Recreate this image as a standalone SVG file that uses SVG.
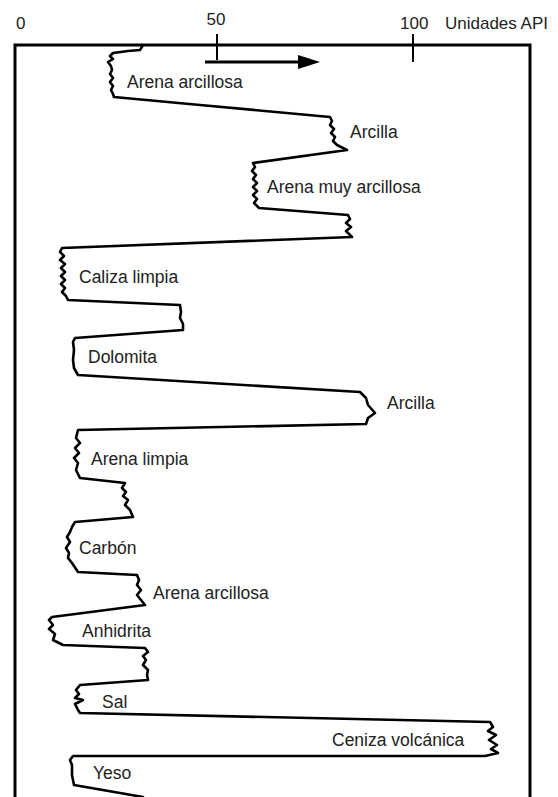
<svg xmlns="http://www.w3.org/2000/svg" width="558" height="797" viewBox="0 0 558 797">
<defs>
<style>
.t{font-family:"Liberation Sans",Arial,sans-serif;font-size:17.5px;fill:#222}
.h{font-family:"Liberation Sans",Arial,sans-serif;font-size:17px;fill:#222}
.fr{fill:none;stroke:#000;stroke-width:3}
.log{fill:none;stroke:#000;stroke-width:2.6;stroke-linejoin:round;stroke-linecap:round}
</style>
<marker id="ah" markerWidth="8" markerHeight="8" refX="7" refY="4" orient="auto" markerUnits="userSpaceOnUse" viewBox="0 0 8 8">
<path d="M0,0 L8,4 L0,8 Z" fill="#000"/>
</marker>
</defs>
<rect width="558" height="797" fill="#fff"/>
<g id="frame">
<path class="fr" d="M15,797 L15,45 L530,45 L530,797"/>
</g>
<g id="axis">
<line x1="217" y1="34" x2="217" y2="60" stroke="#000" stroke-width="2"/>
<line x1="413" y1="34" x2="413" y2="62" stroke="#000" stroke-width="2"/>
<line x1="205" y1="62" x2="300" y2="62" stroke="#000" stroke-width="3"/>
<path d="M298,55 L320,62 L298,69 Z" fill="#000"/>
<text class="h" x="16" y="29">0</text>
<text class="h" x="216" y="25" text-anchor="middle">50</text>
<text class="h" x="400" y="29">100</text>
<text class="h" x="445" y="29">Unidades API</text>
</g>
<g id="curve">
<path class="log" d="M143,45 L140,50 L128,51 L113,53 L110,56 L113,59 L108,62 L111,66 L112,70 L110,74 L113,78 L110,82 L113,86 L111,90 L113,94 L114,97
L200,105 L330,117 L332,121 L330,125 L334,129 L331,133 L335,137 L333,141 L337,145 L347,150
L253,163 L255,167 L252,171 L256,175 L253,179 L257,183 L253,187 L257,191 L253,195 L257,199 L254,203 L259,208
L348,215 L350,219 L346,223 L351,227 L346,231 L352,237
L62,248 L60,252 L64,256 L60,260 L65,264 L61,268 L65,272 L61,276 L65,280 L61,284 L65,288 L62,292 L66,296 L68,300
L180,305 L181,312 L180,318 L183,324 L183,330
L75,338 L73,342 L74,350 L73,360 L74,368 L78,375
L360,392 L366,398 L368,405 L375,413 L368,418 L366,424
L78,430 L76,438 L80,443 L75,448 L79,453 L74,458 L78,463 L76,470 L80,478
L125,483 L122,488 L126,492 L123,496 L128,500 L125,505 L130,510 L133,517
L75,522 L72,527 L70,532 L67,537 L70,542 L66,548 L69,553 L68,558 L72,563 L78,572
L137,575 L139,580 L137,585 L141,590 L137,595 L141,600 L145,605
L52,617 L49,620 L53,625 L49,629 L55,634 L53,640 L63,645
L145,648 L148,652 L143,656 L146,660 L143,665 L148,670 L147,675 L148,680
L80,685 L76,690 L79,694 L75,698 L83,700 L75,704 L78,710 L80,713
L490,722 L493,727 L488,731 L496,735 L489,740 L497,745 L491,749 L498,753 L485,756
L73,756 L70,760 L72,765 L72,775 L74,785 L143,797"/>
</g>
<g id="labels">
<text class="t" x="127" y="88">Arena arcillosa</text>
<text class="t" x="350" y="138">Arcilla</text>
<text class="t" x="267" y="193">Arena muy arcillosa</text>
<text class="t" x="79" y="283">Caliza limpia</text>
<text class="t" x="88" y="363">Dolomita</text>
<text class="t" x="387" y="409">Arcilla</text>
<text class="t" x="91" y="465">Arena limpia</text>
<text class="t" x="79" y="554">Carbón</text>
<text class="t" x="153" y="599">Arena arcillosa</text>
<text class="t" x="82" y="637">Anhidrita</text>
<text class="t" x="102" y="708">Sal</text>
<text class="t" x="93" y="779">Yeso</text>
<text class="t" x="332" y="746">Ceniza volcánica</text>
</g>
</svg>
